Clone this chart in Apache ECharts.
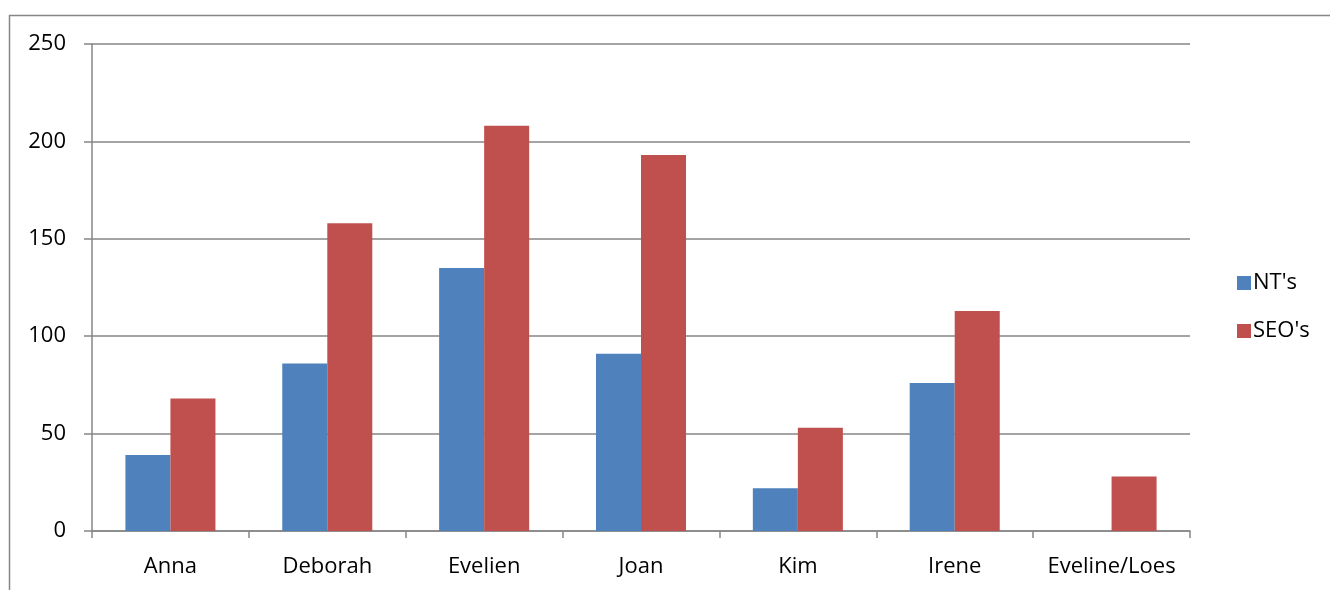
<!DOCTYPE html>
<html>
<head>
<meta charset="utf-8">
<script src="https://cdn.jsdelivr.net/npm/echarts@6/dist/echarts.min.js"></script>
<style>
  html, body { margin: 0; padding: 0; background: #fff; }
  #main { width: 1330px; height: 590px; }
</style>
</head>
<body>
<div id="main"></div>
<script>
// data
var names = ['Anna', 'Deborah', 'Evelien', 'Joan', 'Kim', 'Irene', 'Eveline/Loes'];
var ntValues = [39, 86, 135, 91, 22, 76, null];
var seoValues = [68, 158, 208, 193, 53, 113, 28];
var seriesNames = ["NT's", "SEO's"];

var gridColor = '#868686';
var font = '"Open Sans", "Liberation Sans", sans-serif';

var chart = echarts.init(document.getElementById('main'));

var option = {
  backgroundColor: '#fff',
  animation: false,
  textStyle: { fontFamily: font },
  graphic: [{
    type: 'rect',
    shape: { x: 9.5, y: 15.5, width: 1400, height: 700 },
    style: { fill: 'none', stroke: gridColor, lineWidth: 1.5 },
    silent: true
  }],
  grid: { left: 92, right: 140, top: 44, bottom: 59, containLabel: false },
  legend: {
    orient: 'vertical',
    left: 1232,
    top: 267,
    itemWidth: 14,
    itemHeight: 14,
    itemGap: 26,
    icon: 'rect',
    textStyle: { fontFamily: font, fontSize: 22, color: '#000', padding: [0, 0, 0, -3] },
    data: seriesNames
  },
  xAxis: {
    type: 'category',
    data: names,
    axisLine: { lineStyle: { color: gridColor, width: 1.5 } },
    axisTick: { show: true, length: 7, alignWithLabel: false, lineStyle: { color: gridColor, width: 1.5 } },
    axisLabel: { color: '#000', fontSize: 22, margin: 25, fontFamily: font, interval: 0 }
  },
  yAxis: {
    type: 'value',
    min: 0,
    max: 250,
    interval: 50,
    axisLine: { show: true, lineStyle: { color: gridColor, width: 1.5 } },
    axisTick: { show: true, length: 8, lineStyle: { color: gridColor, width: 1.5 } },
    axisLabel: { color: '#000', fontSize: 22, margin: 26, fontFamily: font },
    splitLine: { lineStyle: { color: gridColor, width: 1.5 } }
  },
  series: [
    {
      name: seriesNames[0],
      type: 'bar',
      data: ntValues,
      barGap: '0%',
      barCategoryGap: '42.6%',
      itemStyle: { color: '#4F81BD' }
    },
    {
      name: seriesNames[1],
      type: 'bar',
      data: seoValues,
      barGap: '0%',
      barCategoryGap: '42.6%',
      itemStyle: { color: '#C0504D' }
    }
  ]
};
chart.setOption(option);
</script>
</body>
</html>
